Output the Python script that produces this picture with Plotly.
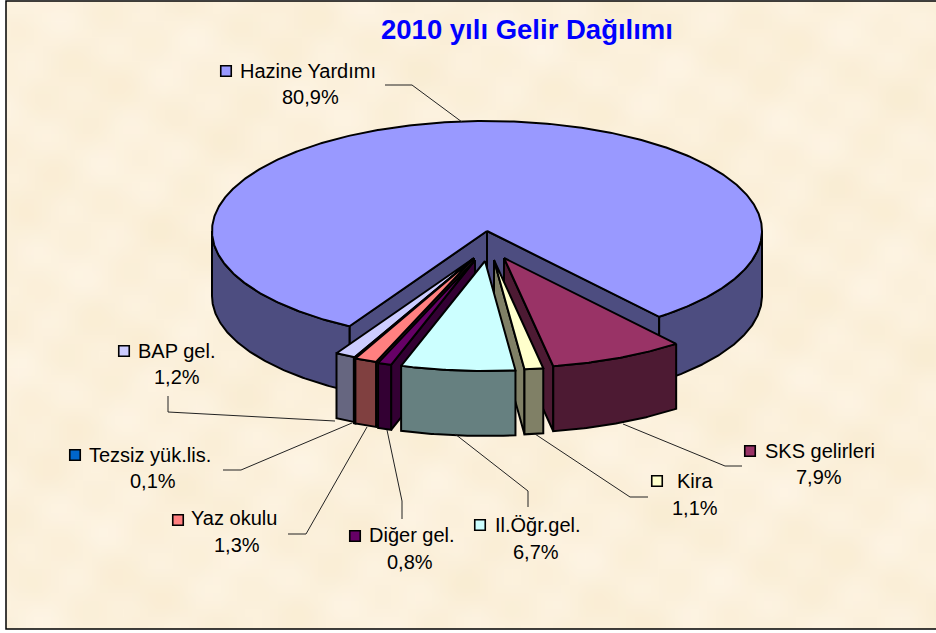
import base64
import math
import struct
import zlib
import plotly.graph_objects as go

# 3D exploded pie, Plotly has no such trace so the wedges are worked out from the values
labels = ["Hazine Yardımı", "SKS gelirleri", "Kira", "Il.Öğr.gel.", "Diğer gel.", "Yaz okulu", "Tezsiz yük.lis.", "BAP gel."]
values = [80.9, 7.9, 1.1, 6.7, 0.8, 1.3, 0.1, 1.2]
value_text = ["80,9%", "7,9%", "1,1%", "6,7%", "0,8%", "1,3%", "0,1%", "1,2%"]
top_colors = ["#9999FF", "#993366", "#FFFFCC", "#CCFFFF", "#660066", "#FF8080", "#0066CC", "#CCCCFF"]
side_colors = ["#4D4D80", "#4D1A33", "#808066", "#668080", "#330033", "#804040", "#003366", "#666680"]

# pie geometry in page pixels
CX, CY, RX, RY, DEPTH = 487, 231, 275, 110, 65
START_ANGLE = 210
explode = [(0, 0), (17, 27), (7, 29), (-2, 30), (-12, 29), (-14, 28), (-14, 28), (-13, 27)]
draw_order = [0, 7, 6, 5, 4, 1, 2, 3]

# legend key, label text start, label y, value centre x, value y, leader line
label_pos = [
    (226, 71, 238, 71, 310, 97, [(385, 85), (412, 85), (462, 122)]),
    (750, 451, 763, 451, 819, 477, [(742, 466), (725, 466), (623, 424)]),
    (657, 481, 675, 481, 695, 508, [(648, 497), (630, 497), (535, 434)]),
    (480, 525, 493, 525, 536, 552, [(528, 507), (528, 491), (455, 434)]),
    (355, 536, 367, 535, 410, 562, [(402, 519), (402, 501), (387, 430)]),
    (178, 520, 189, 518, 237, 545, [(288, 534), (306, 534), (367, 427)]),
    (75, 455, 87, 455, 153, 481, [(223, 470), (241, 470), (352, 423)]),
    (124, 351, 136, 351, 177, 377, [(168, 396), (168, 412), (335, 421)]),
]

FONT = "Liberation Sans"

fig = go.Figure()


def parchment(w=116, h=78):
    # faint mottled paper, stretched over the plot area as a background picture
    rows = bytearray()
    for j in range(h):
        rows.append(0)
        for i in range(w):
            n = (math.sin(i * 0.31 + j * 0.17) + math.sin(i * 0.13 - j * 0.41 + 1.3)
                 + math.sin(i * 0.71 + j * 0.53 + 2.1) + math.sin(i * 0.47 - j * 0.83 + 0.4))
            rows += bytes((int(252 + n * 0.6), int(241 + n * 1.0), int(220 + n * 2.2)))
    def chunk(tag, data):
        return struct.pack(">I", len(data)) + tag + data + struct.pack(">I", zlib.crc32(tag + data))
    png = (b"\x89PNG\r\n\x1a\n" + chunk(b"IHDR", struct.pack(">IIBBBBB", w, h, 8, 2, 0, 0, 0))
           + chunk(b"IDAT", zlib.compress(bytes(rows))) + chunk(b"IEND", b""))
    return "data:image/png;base64," + base64.b64encode(png).decode()


def pt(angle, off, radius=1.0, drop=0):
    a = math.radians(angle)
    return (CX + off[0] + radius * RX * math.sin(a), CY + off[1] - radius * RY * math.cos(a) + drop)


def poly(points, color):
    fig.add_trace(go.Scatter(
        x=[p[0] for p in points] + [points[0][0]],
        y=[p[1] for p in points] + [points[0][1]],
        mode="lines", fill="toself", fillcolor=color,
        line=dict(color="black", width=2),
        hoverinfo="skip", showlegend=False,
    ))


def arc(a0, a1, off, drop=0):
    n = max(2, int(abs(a1 - a0) * 2))
    return [pt(a0 + (a1 - a0) * i / n, off, drop=drop) for i in range(n + 1)]


# cumulative angles, clockwise from START_ANGLE
spans = []
run = START_ANGLE
for v in values:
    spans.append((run, run + v * 3.6))
    run += v * 3.6

for i in draw_order:
    a0, a1 = spans[i]
    off = explode[i]
    side = side_colors[i]
    # cut faces
    if math.sin(math.radians(a0)) < 0:
        poly([pt(a0, off, 0), pt(a0, off), pt(a0, off, drop=DEPTH), pt(a0, off, 0, DEPTH)], side)
    if math.sin(math.radians(a1)) > 0:
        poly([pt(a1, off, 0), pt(a1, off), pt(a1, off, drop=DEPTH), pt(a1, off, 0, DEPTH)], side)
    # rim, only the front half of the ellipse shows
    for lo, hi in [(90, 270), (450, 630)]:
        s, e = max(a0, lo), min(a1, hi)
        if s < e:
            poly(arc(s, e, off) + arc(e, s, off, DEPTH), side)
    poly([pt(a0, off, 0)] + arc(a0, a1, off), top_colors[i])

# labels with leader lines and colour keys
for i, name in enumerate(labels):
    kx, ky, tx, ty, vx, vy, leader = label_pos[i]
    fig.add_trace(go.Scatter(
        x=[p[0] for p in leader], y=[p[1] for p in leader], mode="lines",
        line=dict(color="#222222", width=1), hoverinfo="skip", showlegend=False,
    ))
    fig.add_trace(go.Scatter(
        x=[kx], y=[ky], mode="markers",
        marker=dict(symbol="square", size=10.5, color=top_colors[i], line=dict(color="black", width=1.6)),
        hoverinfo="skip", showlegend=False,
    ))
    fig.add_annotation(x=tx, y=ty, text=name, showarrow=False, xanchor="left", yanchor="middle",
                       font=dict(family=FONT, size=20, color="black"))
    fig.add_annotation(x=vx, y=vy, text=value_text[i], showarrow=False, xanchor="center", yanchor="middle",
                       font=dict(family=FONT, size=20, color="black"))

fig.add_annotation(x=527, y=29, text="<b>2010 yılı Gelir Dağılımı</b>", showarrow=False,
                   font=dict(family=FONT, size=27.5, color="#0000FF"))

fig.add_layout_image(source=parchment(), xref="x", yref="y", x=6, y=1, sizex=940, sizey=628,
                     sizing="stretch", xanchor="left", yanchor="top", layer="below")
fig.add_shape(type="rect", x0=6, y0=1, x1=945, y1=629, line=dict(color="black", width=1.5))

fig.update_xaxes(range=[0, 936], visible=False, fixedrange=True)
fig.update_yaxes(range=[633, 0], visible=False, fixedrange=True)
fig.update_layout(
    width=936, height=633, margin=dict(l=0, r=0, t=0, b=0),
    paper_bgcolor="white", plot_bgcolor="white", showlegend=False,
)
# the browser's default body margin would push the fixed-size chart off by 8px
fig.write_html("out.html", config=dict(displayModeBar=False),
               post_script="document.body.style.margin='0';")
